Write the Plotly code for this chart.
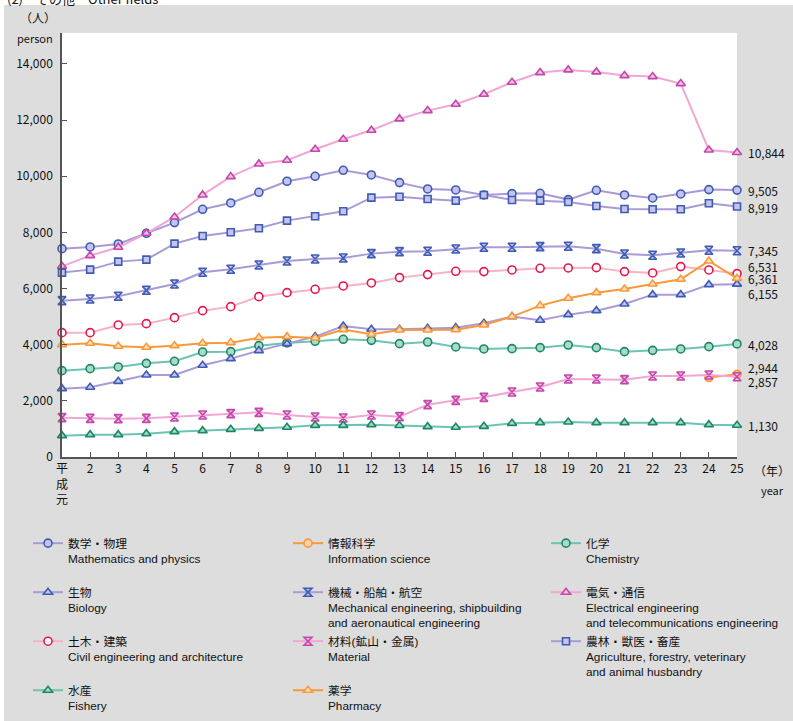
import plotly.graph_objects as go

years = list(range(1, 26))
year_labels = ["平<br>成<br>元"] + [str(y) for y in range(2, 26)]

math_phys = [7420, 7480, 7587, 7967, 8347, 8822, 9048, 9428, 9820, 9997, 10211, 10045, 9772,
             9546, 9511, 9333, 9380, 9392, 9167, 9499, 9333, 9226, 9368, 9523, 9505]
info_sci = [None] * 23 + [2830, 2944]
chemistry = [3075, 3146, 3206, 3336, 3408, 3740, 3752, 3966, 4061, 4120, 4191, 4155, 4037,
             4096, 3918, 3847, 3859, 3894, 3989, 3894, 3752, 3799, 3847, 3930, 4028]
biology = [2434, 2482, 2695, 2921, 2921, 3265, 3503, 3788, 4037, 4286, 4666, 4548, 4548,
           4583, 4607, 4761, 4999, 4868, 5070, 5212, 5450, 5782, 5782, 6138, 6155]
mechanical = [5568, 5628, 5723, 5936, 6162, 6578, 6685, 6839, 6982, 7053, 7088, 7243, 7314,
              7326, 7409, 7468, 7468, 7492, 7504, 7420, 7231, 7183, 7266, 7362, 7345]
electrical = [6791, 7171, 7468, 7967, 8549, 9333, 9985, 10437, 10568, 10960, 11316, 11636, 12040,
              12336, 12563, 12919, 13346, 13690, 13785, 13714, 13583, 13548, 13298, 10935, 10844]
civil = [4428, 4428, 4702, 4749, 4963, 5212, 5355, 5711, 5853, 5972, 6091, 6198, 6388,
         6495, 6614, 6602, 6661, 6721, 6733, 6744, 6602, 6554, 6780, 6661, 6531]
material = [1401, 1377, 1365, 1377, 1425, 1496, 1543, 1591, 1496, 1425, 1389, 1496, 1437,
            1864, 2018, 2125, 2315, 2493, 2778, 2778, 2755, 2885, 2885, 2921, 2857]
agriculture = [6566, 6673, 6958, 7029, 7599, 7872, 8003, 8145, 8418, 8572, 8750, 9237, 9270,
               9190, 9130, 9333, 9155, 9130, 9083, 8941, 8834, 8822, 8822, 9036, 8919]
fishery = [760, 796, 796, 831, 903, 938, 985, 1021, 1057, 1128, 1128, 1152, 1122,
           1081, 1057, 1092, 1199, 1223, 1247, 1223, 1223, 1223, 1223, 1152, 1130]
pharmacy = [4001, 4049, 3942, 3906, 3966, 4049, 4073, 4251, 4286, 4239, 4536, 4369, 4524,
            4524, 4536, 4702, 4999, 5391, 5652, 5853, 5984, 6162, 6328, 6982, 6361]

y_tick_vals = [0, 2000, 4000, 6000, 8000, 10000, 12000, 14000]
end_labels = [10844, 9505, 8919, 7345, 6531, 6361, 6155, 4028, 2944, 2857, 1130]
end_label_shift = [0, 0, -1, 0, 7, 0, -9, -1, 7, -5, 0]

LAV = "#a99ad8"
BLUE = "#3d5db5"
ORANGE = "#f9993a"
TEAL = "#6cc4b2"
GREEN = "#1e8766"
PINK = "#f2a6d6"
MAGENTA = "#c447aa"
CPINK = "#f7b3c2"
RED = "#e5164d"

# (name, values, line colour, marker edge, marker fill, symbol, legend column)
series = [
    ("数学・物理<br>Mathematics and physics<br> ", math_phys, LAV, BLUE, "#c8c2ec", "circle", "legend"),
    ("情報科学<br>Information science<br> ", info_sci, ORANGE, ORANGE, "#fcd3a6", "circle", "legend2"),
    ("化学<br>Chemistry<br> ", chemistry, TEAL, GREEN, "#a8dcc8", "circle", "legend3"),
    ("生物<br>Biology<br> ", biology, LAV, BLUE, "#c8c2ec", "triangle-up", "legend"),
    ("機械・船舶・航空<br>Mechanical engineering, shipbuilding<br>and aeronautical engineering",
     mechanical, LAV, BLUE, "#c8c2ec", "hourglass", "legend2"),
    ("電気・通信<br>Electrical engineering<br>and telecommunications engineering",
     electrical, PINK, MAGENTA, "#f3c0e4", "triangle-up", "legend3"),
    ("土木・建築<br>Civil engineering and architecture<br> ", civil, CPINK, RED, "#ffffff", "circle", "legend"),
    ("材料(鉱山・金属)<br>Material<br> ", material, PINK, MAGENTA, "#f3c0e4", "hourglass", "legend2"),
    ("農林・獣医・畜産<br>Agriculture, forestry, veterinary<br>and animal husbandry",
     agriculture, LAV, BLUE, "#c8c2ec", "square", "legend3"),
    ("水産<br>Fishery<br> ", fishery, TEAL, GREEN, "#a8dcc8", "triangle-up", "legend"),
    ("薬学<br>Pharmacy<br> ", pharmacy, ORANGE, ORANGE, "#fde0c0", "triangle-up", "legend2"),
]

fig = go.Figure()
for name, vals, lc, mc, fc, sym, leg in series:
    fig.add_trace(go.Scatter(
        x=years, y=vals, name=name, mode="lines+markers", legend=leg,
        line=dict(color=lc, width=2),
        marker=dict(symbol=sym, size=8 if sym != "square" else 7, color=fc,
                    line=dict(color=mc, width=1.6)),
        cliponaxis=False,
    ))

FONT = "Noto Sans CJK JP, Noto Sans, sans-serif"
LFONT = "Liberation Sans, Noto Sans CJK JP, sans-serif"
W, H = 793, 721
L, R, T, B = 62, 56, 33, 264
pw, ph = W - L - R, H - T - B


def px_x(px):
    return (px - L) / pw


def px_y(py):
    return 1 - (py - T) / ph


annotations = []
for v, s in zip(end_labels, end_label_shift):
    annotations.append(dict(x=25, y=v, xref="x", yref="y", text=f"{v:,}", showarrow=False,
                            xanchor="left", yanchor="middle", xshift=9, yshift=s,
                            font=dict(size=12, color="#111", family=FONT)))
annotations += [
    dict(x=px_x(38), y=px_y(17), xref="paper", yref="paper", text="（人）", showarrow=False,
         xanchor="center", yanchor="middle", font=dict(size=12, color="#111", family=FONT)),
    dict(x=px_x(35), y=px_y(38), xref="paper", yref="paper", text="person", showarrow=False,
         xanchor="center", yanchor="middle", font=dict(size=11, color="#111", family=FONT)),
    dict(x=px_x(772), y=px_y(470), xref="paper", yref="paper", text="（年）", showarrow=False,
         xanchor="center", yanchor="middle", font=dict(size=12, color="#111", family=FONT)),
    dict(x=px_x(772), y=px_y(490), xref="paper", yref="paper", text="year", showarrow=False,
         xanchor="center", yanchor="middle", font=dict(size=11, color="#111", family=FONT)),
    dict(x=px_x(5), y=px_y(-2), xref="paper", yref="paper", text="(2)　その他　Other fields",
         showarrow=False, xanchor="left", yanchor="middle",
         font=dict(size=13, color="#111", family=FONT)),
]

shapes = [
    dict(type="rect", xref="paper", yref="paper", x0=px_x(-5), x1=px_x(W + 5), y0=px_y(5), y1=px_y(-5),
         fillcolor="white", line=dict(width=0), layer="below"),
    dict(type="rect", xref="paper", yref="paper", x0=px_x(-5), x1=px_x(4), y0=px_y(H + 5), y1=px_y(-5),
         fillcolor="white", line=dict(width=0), layer="below"),
]

leg_common = dict(orientation="v", yanchor="top", xanchor="left", valign="top",
                  bgcolor="rgba(0,0,0,0)", font=dict(size=11.8, family=LFONT, color="#111"),
                  itemwidth=30)
leg_top = px_y(529)

fig.update_layout(
    width=W, height=H,
    margin=dict(l=L, r=R, t=T, b=B, autoexpand=False),
    paper_bgcolor="#dddddd",
    plot_bgcolor="white",
    font=dict(family=FONT, size=12, color="#111"),
    showlegend=True,
    legend=dict(x=px_x(28), y=leg_top, **leg_common),
    legend2=dict(x=px_x(288), y=leg_top, **leg_common),
    legend3=dict(x=px_x(546), y=leg_top, **leg_common),
    annotations=annotations,
    shapes=shapes,
    xaxis=dict(range=[1, 25], tickmode="array", tickvals=years, ticktext=year_labels,
               showgrid=False, zeroline=False, showline=True, linecolor="#555", linewidth=1.5,
               ticks="inside", ticklen=5, tickcolor="#555", tickfont=dict(size=12, family=FONT)),
    yaxis=dict(range=[0, 15100], tickmode="array", tickvals=y_tick_vals,
               ticktext=[f"{v:,}" for v in y_tick_vals], ticklabelstandoff=5,
               showgrid=False, zeroline=False, showline=True, linecolor="#555", linewidth=1.5,
               ticks="inside", ticklen=5, tickcolor="#555", tickfont=dict(size=12, family=FONT)),
)

fig.write_html("out.html", config={"displayModeBar": False},
               post_script="document.body.style.margin='0';")
